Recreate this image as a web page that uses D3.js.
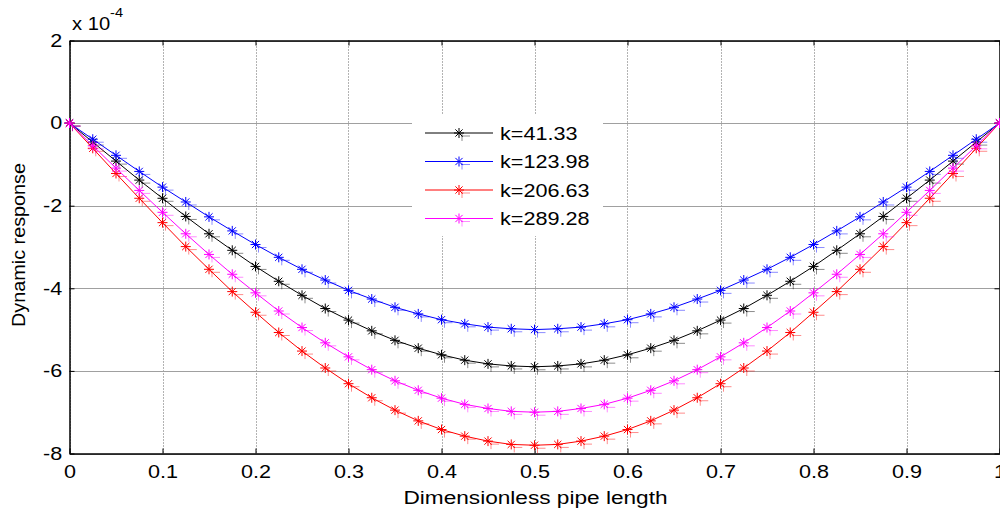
<!DOCTYPE html>
<html><head><meta charset="utf-8">
<script src="https://cdn.jsdelivr.net/npm/d3@7/dist/d3.min.js"></script>
<style>body{margin:0;background:#fff}svg{display:block;font-family:"Liberation Sans",Arial,sans-serif}</style>
</head><body><svg id="c" width="1000" height="513"></svg>
<script>
const xValues = [0,0.025,0.05,0.075,0.1,0.125,0.15,0.175,0.2,0.225,0.25,0.275,0.3,0.325,0.35,0.375,0.4,0.425,0.45,0.475,0.5,0.525,0.55,0.575,0.6,0.625,0.65,0.675,0.7,0.725,0.75,0.775,0.8,0.825,0.85,0.875,0.9,0.925,0.95,0.975,1];
const k1 = [0,-0.46,-0.92,-1.38,-1.82,-2.26,-2.68,-3.08,-3.47,-3.83,-4.17,-4.49,-4.77,-5.03,-5.26,-5.45,-5.61,-5.74,-5.83,-5.88,-5.90,-5.88,-5.83,-5.74,-5.61,-5.45,-5.26,-5.03,-4.77,-4.49,-4.17,-3.83,-3.47,-3.08,-2.68,-2.26,-1.82,-1.38,-0.92,-0.46,0];
const k2 = [0,-0.39,-0.78,-1.17,-1.55,-1.91,-2.27,-2.61,-2.94,-3.25,-3.54,-3.80,-4.05,-4.26,-4.46,-4.62,-4.76,-4.86,-4.94,-4.98,-5.00,-4.98,-4.94,-4.86,-4.76,-4.62,-4.46,-4.26,-4.05,-3.80,-3.54,-3.25,-2.94,-2.61,-2.27,-1.91,-1.55,-1.17,-0.78,-0.39,0];
const k3 = [0,-0.61,-1.22,-1.82,-2.41,-2.99,-3.54,-4.08,-4.58,-5.07,-5.52,-5.93,-6.31,-6.65,-6.95,-7.21,-7.42,-7.58,-7.70,-7.78,-7.80,-7.78,-7.70,-7.58,-7.42,-7.21,-6.95,-6.65,-6.31,-5.93,-5.52,-5.07,-4.58,-4.08,-3.54,-2.99,-2.41,-1.82,-1.22,-0.61,0];
const k4 = [0,-0.55,-1.09,-1.63,-2.16,-2.68,-3.18,-3.66,-4.11,-4.55,-4.95,-5.32,-5.66,-5.97,-6.24,-6.47,-6.66,-6.81,-6.91,-6.98,-7.00,-6.98,-6.91,-6.81,-6.66,-6.47,-6.24,-5.97,-5.66,-5.32,-4.95,-4.55,-4.11,-3.66,-3.18,-2.68,-2.16,-1.63,-1.09,-0.55,0];
const seriesNames = ["k=41.33","k=123.98","k=206.63","k=289.28"];
const seriesColors = ["#000000","#0000ff","#ff0000","#ff00ff"];
const xTicks = [0,0.1,0.2,0.3,0.4,0.5,0.6,0.7,0.8,0.9,1];
const yTicks = [2,0,-2,-4,-6,-8];

const series = [k1,k2,k3,k4];
const svg = d3.select("#c");
const L=69.5, R=999.5, T=40.5, B=453.5;
const SX = 1.2;
const x = d3.scaleLinear().domain([0,1]).range([L,R]);
const y = d3.scaleLinear().domain([-8,2]).range([B,T]);

const g = svg.append("g");
// grid
g.selectAll(".vg").data(xTicks).enter().append("line")
 .attr("x1",d=>Math.round(x(d))+0.5).attr("x2",d=>Math.round(x(d))+0.5).attr("y1",T).attr("y2",B)
 .attr("stroke","#666").attr("stroke-dasharray","1,2").attr("stroke-width",1);
g.selectAll(".hg").data(yTicks).enter().append("line")
 .attr("y1",d=>Math.round(y(d))+0.5).attr("y2",d=>Math.round(y(d))+0.5).attr("x1",L).attr("x2",R)
 .attr("stroke","#a0a0a0").attr("stroke-width",1);

// axes
const fmt = d=>d===0?"0":String(d);
const xb = d3.axisBottom(x).tickValues(xTicks).tickSizeInner(-5).tickSizeOuter(0).tickPadding(12).tickFormat(fmt);
const xt = d3.axisTop(x).tickValues(xTicks).tickSizeInner(-5).tickSizeOuter(0).tickFormat("");
const yl = d3.axisLeft(y).tickValues(yTicks).tickSizeInner(-5).tickSizeOuter(0).tickPadding(6).tickFormat(fmt);
const yr = d3.axisRight(y).tickValues(yTicks).tickSizeInner(-5).tickSizeOuter(0).tickFormat("");
function style(sel){sel.selectAll("path").attr("stroke","#000").attr("stroke-width",1.5);
 sel.selectAll("line").attr("stroke","#000");
 sel.selectAll("text").attr("fill","#000").attr("font-size","18px").attr("font-family","Liberation Sans, Arial, sans-serif")
   .attr("transform",`scale(${SX},1)`);}
svg.append("g").attr("transform",`translate(0,${B})`).call(xb).call(style);
svg.append("g").attr("transform",`translate(0,${T})`).call(xt).call(style);
svg.append("g").attr("transform",`translate(${L},0)`).call(yl).call(style);
svg.append("g").attr("transform",`translate(${R},0)`).call(yr).call(style);

// lines
const line = d3.line().x((d,i)=>x(xValues[i])).y(d=>y(d));
const star = "M-5,0L5,0M0,-5L0,5M-3.6,-3.6L3.6,3.6M-3.6,3.6L3.6,-3.6";
const ghost = "M-1,0L8,0M0,-2L0,5";
series.forEach((s,si)=>{
  const c = seriesColors[si];
  svg.append("path").datum(s).attr("d",line).attr("fill","none").attr("stroke",c).attr("stroke-width",1);
  const mg = svg.append("g");
  mg.selectAll("path.ghost").data(s).enter().append("path").attr("class","ghost")
    .attr("transform",(d,i)=>`translate(${x(xValues[i])+3},${y(d)+3})`)
    .attr("d",ghost).attr("stroke",c).attr("stroke-opacity",0.45).attr("fill","none");
  mg.selectAll("path.m").data(s).enter().append("path").attr("class","m")
    .attr("transform",(d,i)=>`translate(${x(xValues[i])},${y(d)})`)
    .attr("d",star).attr("stroke",c).attr("stroke-width",1).attr("fill","none");
});

// legend
const lg = svg.append("g");
lg.append("rect").attr("x",412).attr("y",115).attr("width",191).attr("height",121).attr("fill","#fff");
seriesNames.forEach((n,i)=>{
  const yy = 133 + i*28.5;
  const c = seriesColors[i];
  lg.append("line").attr("x1",425).attr("x2",493).attr("y1",yy).attr("y2",yy).attr("stroke",c);
  lg.append("path").attr("transform",`translate(459,${yy})`).attr("d",star).attr("stroke",c).attr("fill","none");
  lg.append("path").attr("transform",`translate(462,${yy+3})`).attr("d",ghost).attr("stroke",c).attr("stroke-opacity",0.45).attr("fill","none");
  lg.append("text").attr("transform",`translate(500,${yy+6.5}) scale(${SX},1)`).attr("font-size","18px").text(n);
});

// exponent label
const ex = svg.append("text").attr("transform",`translate(72,30) scale(1.12,1)`).attr("font-size","18px");
ex.append("tspan").text("x 10");
ex.append("tspan").attr("dy",-13).attr("font-size","13px").text("-4");

// axis titles
svg.append("text").attr("x",535.5).attr("y",504).attr("text-anchor","middle").attr("font-size","18px")
  .attr("textLength",264).attr("lengthAdjust","spacingAndGlyphs").text("Dimensionless pipe length");
svg.append("text").attr("transform",`translate(25,245) rotate(-90)`).attr("text-anchor","middle").attr("font-size","18px")
  .attr("textLength",164).attr("lengthAdjust","spacingAndGlyphs").text("Dynamic response");
</script></body></html>
